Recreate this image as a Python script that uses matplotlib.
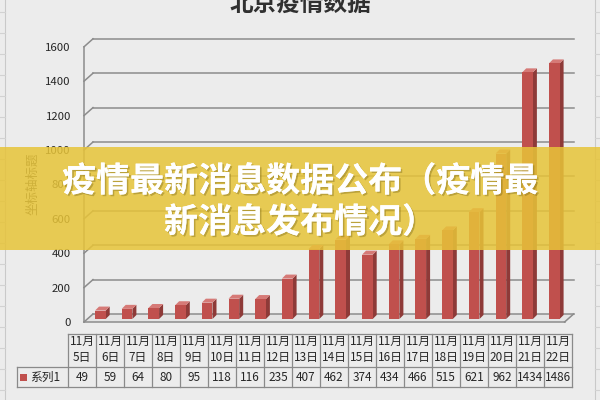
import matplotlib
matplotlib.use('Agg')
import matplotlib.pyplot as plt
from matplotlib.patches import Polygon, Rectangle
import matplotlib.patheffects as pe

plt.rcParams['font.family'] = ['Noto Sans CJK SC', 'DejaVu Sans']

# ---------------- data ----------------
title = '北京疫情数据'
months = [11] * 18
days = [5, 6, 7, 8, 9, 10, 11, 12, 13, 14, 15, 16, 17, 18, 19, 20, 21, 22]
values = [49, 59, 64, 80, 95, 118, 116, 235, 407, 462, 374, 434, 466, 515, 621, 962, 1434, 1486]
series_name = '系列1'
yticks = [0, 200, 400, 600, 800, 1000, 1200, 1400, 1600]
y_title = '坐标轴标题'
banner_lines = ['疫情最新消息数据公布（疫情最', '新消息发布情况）']

# ---------------- style ----------------
W, H = 600, 400
BG = '#ececec'
BAR_FRONT = '#c0504d'
BAR_SIDE = '#8e3a38'
BAR_TOP = '#d67a77'
GRID = '#8c8c8c'
TXT = '#262626'

fig = plt.figure(figsize=(6, 4), dpi=100, facecolor=BG)


def fx(px):
    return px / W


def fy(py):
    return 1 - py / H


# front plane of the 3D box
left_px, right_px, bottom_px, top_px = 84, 564.6, 322, 46.8
ax = fig.add_axes([fx(left_px), fy(bottom_px), (right_px - left_px) / W, (bottom_px - top_px) / H])
ax.set_facecolor('none')
n = len(values)
ax.set_xlim(-0.5, n - 0.5)
ax.set_ylim(yticks[0], yticks[-1])
for s in ax.spines.values():
    s.set_visible(False)
ax.set_xticks([])
ax.set_yticks(yticks)
ax.tick_params(axis='y', length=0, pad=9.4, labelsize=8.2, labelcolor=TXT)
ax.set_clip_on(False)

# pixel -> data conversions
sx = n / (right_px - left_px)            # data units per px (x)
sy = (yticks[-1] - yticks[0]) / (bottom_px - top_px)  # data units per px (y)

bx, by = 9 * sx, 8 * sy     # back wall offset
fxo, fyo = 3 * sx, 3 * sy   # bar plane offset
dx, dy = 4 * sx, 4 * sy     # bar depth
x0, x1 = -0.5, n - 0.5

lw = 1.1
# grid lines on back wall and left wall
for v in yticks:
    ax.plot([x0 + bx, x1 + bx], [v + by, v + by], color=GRID, lw=lw, clip_on=False, zorder=1)
    ax.plot([x0, x0 + bx], [v, v + by], color=GRID, lw=lw, clip_on=False, zorder=1)
# floor
ax.plot([x0, x1], [0, 0], color=GRID, lw=lw, clip_on=False, zorder=1)
ax.plot([x1, x1 + bx], [0, by], color=GRID, lw=lw, clip_on=False, zorder=1)
ax.add_patch(Polygon([[x0, 0], [x1, 0], [x1 + bx, by], [x0 + bx, by]], closed=True,
                     facecolor='#e4e4e4', edgecolor='none', zorder=0.5, clip_on=False))
# left wall vertical edge
ax.plot([x0, x0], [yticks[0], yticks[-1]], color=GRID, lw=lw, clip_on=False, zorder=1)

# bars (3D look)
bw = 0.40
for i, v in enumerate(values):
    xl = i - bw / 2 + fxo
    xr = i + bw / 2 + fxo
    yb = fyo
    yt = v + fyo
    # side
    ax.add_patch(Polygon([[xr, yb], [xr + dx, yb + dy], [xr + dx, yt + dy], [xr, yt]],
                         closed=True, facecolor=BAR_SIDE, edgecolor='none', zorder=3, clip_on=False))
    # top
    ax.add_patch(Polygon([[xl, yt], [xr, yt], [xr + dx, yt + dy], [xl + dx, yt + dy]],
                         closed=True, facecolor=BAR_TOP, edgecolor='none', zorder=3, clip_on=False))
    # front
    ax.add_patch(Rectangle((xl, yb), xr - xl, v, facecolor=BAR_FRONT, edgecolor='none',
                           zorder=4, clip_on=False))

# titles
fig.text(fx(300), fy(4), title, ha='center', va='center', fontsize=17,
         fontweight='bold', color='#303030')
fig.text(fx(33), fy(184), y_title, ha='center', va='center', rotation=90,
         fontsize=9, color='#404040')

# ---------------- overlay axes (pixel coords) ----------------
ov = fig.add_axes([0, 0, 1, 1], zorder=5)
ov.set_xlim(0, W)
ov.set_ylim(H, 0)
ov.axis('off')
ov.patch.set_alpha(0)

# excel sheet grid fragments in margins
for xv in (5, 595):
    ov.plot([xv, xv], [0, H], color='#c9c9c9', lw=0.8)
for yv in range(12, H, 21):
    ov.plot([0, 5], [yv, yv], color='#d2d2d2', lw=0.8)
    ov.plot([595, 600], [yv, yv], color='#d2d2d2', lw=0.8)

# data table
tcol = '#8a8a8a'
c0l, c0r, cw = 17, 68, 28.0
ty0, ty1, ty2 = 334, 367, 387
cx_right = c0r + cw * n
ov.plot([c0r, cx_right], [ty0, ty0], color=tcol, lw=0.9)
ov.plot([c0l, cx_right], [ty1, ty1], color=tcol, lw=0.9)
ov.plot([c0l, cx_right], [ty2, ty2], color=tcol, lw=0.9)
ov.plot([c0l, c0l], [ty1, ty2], color=tcol, lw=0.9)
for k in range(n + 1):
    xx = c0r + cw * k
    ov.plot([xx, xx], [ty0, ty2], color=tcol, lw=0.9)
for k in range(n):
    cx = c0r + cw * (k + 0.5)
    ov.text(cx, 341, f'{months[k]}月', ha='center', va='center', fontsize=8.5, color=TXT)
    ov.text(cx, 358, f'{days[k]}日', ha='center', va='center', fontsize=8.5, color=TXT)
    ov.text(cx, 377.5, f'{values[k]}', ha='center', va='center', fontsize=8.5, color=TXT)
ov.add_patch(Rectangle((20, 374), 6.5, 6.5, facecolor=BAR_FRONT, edgecolor='none'))
ov.text(45, 377.5, series_name, ha='center', va='center', fontsize=8.5, color=TXT)

# banner overlay
ov.add_patch(Rectangle((0, 147), W, 103, facecolor=(0.905, 0.77, 0.22), alpha=0.85,
                       edgecolor='none', zorder=10))
shadow = [pe.withSimplePatchShadow(offset=(1.2, -1.2), shadow_rgbFace='#6b5a10', alpha=0.35),
          pe.Normal()]
ov.text(300, 181, banner_lines[0], ha='center', va='center', fontsize=24.5,
        fontweight='bold', color='white', zorder=11, path_effects=shadow)
ov.text(300, 222, banner_lines[1], ha='center', va='center', fontsize=24.5,
        fontweight='bold', color='white', zorder=11, path_effects=shadow)

fig.savefig('out.png', dpi=100, facecolor=BG)
